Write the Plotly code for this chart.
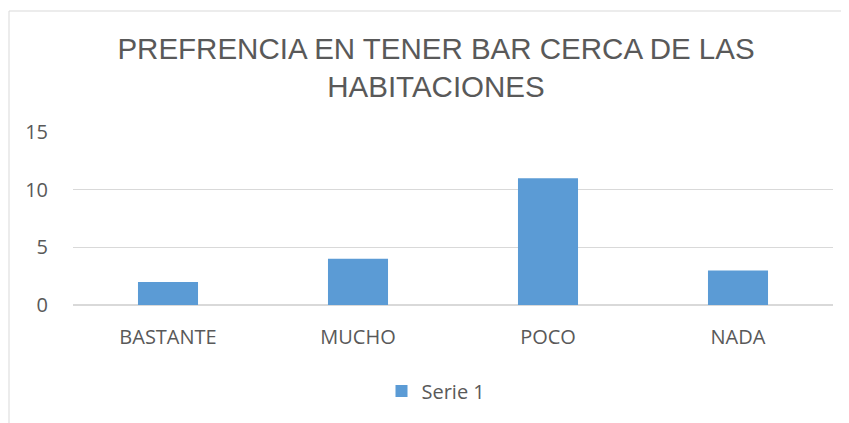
import plotly.graph_objects as go

categories = ["BASTANTE", "MUCHO", "POCO", "NADA"]
values = [2, 4, 11, 3]
series_name = "Serie 1"
y_ticks = [0, 5, 10, 15]
title_text = "PREFRENCIA EN TENER BAR CERCA DE LAS<br>HABITACIONES"

# page body has 8px margin; work in screen coords and offset
OFF = 8
W, H = 849 - OFF, 423 - OFF
L, R, T, B = 73 - OFF, 16, 132 - OFF, 118
pw, ph = W - L - R, H - T - B

def sx(x):  # screen px -> paper x
    return (x - OFF - L) / pw

def sy(y):  # screen px -> paper y
    return (H - B - (y - OFF)) / ph

fig = go.Figure(go.Bar(
    x=categories, y=values, name=series_name,
    marker=dict(color="#5B9BD5", line=dict(width=0)),
    width=0.316, showlegend=True,
))

fig.update_layout(
    width=W, height=H,
    margin=dict(l=L, r=R, t=T, b=B),
    paper_bgcolor="white", plot_bgcolor="white",
    font=dict(family="Open Sans", color="#595959", size=20),
    title=dict(text=title_text, x=(436 - OFF) / W, xanchor="center", xref="container",
               y=1 - (58.5 - OFF) / H, yanchor="middle", yref="container",
               font=dict(family="Liberation Sans", size=29.5, color="#595959")),
    xaxis=dict(showgrid=False, showline=False, zeroline=False, ticks="",
               tickfont=dict(size=20, color="#595959"), ticklabelstandoff=18),
    yaxis=dict(range=[0, 15], tickvals=y_ticks, showgrid=True, gridcolor="#D9D9D9",
               gridwidth=1, zeroline=True, zerolinecolor="#D9D9D9", showline=False,
               ticks="", tickfont=dict(size=20, color="#595959"), ticklabelstandoff=24),
    legend=dict(orientation="h", x=(436 - OFF) / W, xanchor="center", xref="container",
                y=1 - (391 - OFF) / H, yanchor="middle", yref="container",
                font=dict(size=20, color="#595959")),
    shapes=[dict(type="rect", xref="paper", yref="paper",
                 x0=sx(9), x1=sx(880), y0=sy(450), y1=sy(11),
                 line=dict(color="#D9D9D9", width=1), fillcolor="rgba(0,0,0,0)", layer="below")],
)

fig.write_html("out.html")
